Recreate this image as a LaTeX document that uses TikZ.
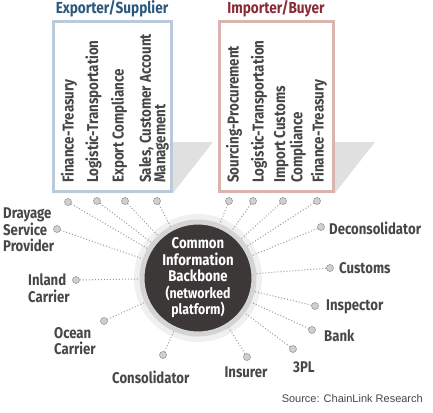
\documentclass[tikz,border=0pt]{standalone}
\usepackage{fontspec}
\setmainfont{Fira Sans}
\newfontfamily\cond{Fira Sans}[FakeStretch=0.85]
\newfontfamily\srcfont{Liberation Sans}
\definecolor{expblue}{HTML}{2B587C}
\definecolor{impred}{HTML}{8A2B36}
\definecolor{boxblue}{HTML}{BACADB}
\definecolor{boxred}{HTML}{DAB4AE}
\definecolor{shadegray}{HTML}{E0E0E0}
\definecolor{hubdark}{HTML}{3B3837}
\definecolor{ringgray}{HTML}{D4D4D4}
\definecolor{txt}{HTML}{474747}
\definecolor{dotfill}{HTML}{D0D0D0}
\definecolor{dotline}{HTML}{9A9A9A}
\tikzset{
  title/.style={font=\cond\bfseries\fontsize{16}{18}\selectfont, inner sep=0pt},
  vtext/.style={rotate=90, anchor=west, inner sep=0pt, align=left, text=txt,
     font=\cond\bfseries\fontsize{15.7}{14.5}\selectfont},
  lbl/.style={inner sep=0pt, align=left, text=txt, font=\cond\bfseries\fontsize{15.5}{16.5}\selectfont},
  dotnode/.style={circle, minimum size=7pt, inner sep=0pt, fill=dotfill, draw=dotline, line width=0.6pt},
  link/.style={draw=dotline, line width=1pt, dash pattern=on 1pt off 2pt},
}
\begin{document}
\begin{tikzpicture}[x=1pt,y=-1pt]
\useasboundingbox (0,0) rectangle (433,412);
% titles
\node[title, text=expblue] (t1) at (112,9) {Exporter/Supplier};
\node[title, text=impred] (t2) at (276,9) {Importer/Buyer};
% shadows
\fill[shadegray] (54,142) -- (213,142) -- (173,193) -- (54,193) -- cycle;
\fill[shadegray] (220,142) -- (375,142) -- (335,193) -- (220,193) -- cycle;
% boxes
\draw[boxblue, fill=white, line width=3pt] (53.5,21.5) rectangle (171.5,191.5);
\draw[boxred, fill=white, line width=3pt] (219.5,21.5) rectangle (333.5,191.5);
% vertical texts
\node[vtext] (e1) at (69,183) {Finance-Treasury};
\node[vtext] (e2) at (93.5,183) {Logistic-Transportation};
\node[vtext] (e3) at (119,183) {Export Compliance};
\node[vtext] (e4) at (154,183) {Sales, Customer Account\\Management};
\node[vtext] (i1) at (234,183) {Sourcing-Procurement};
\node[vtext] (i2) at (259,183) {Logistic-Transportation};
\node[vtext] (i3) at (290,183) {Import Customs\\Compliance};
\node[vtext] (i4) at (319,183) {Finance-Treasury};
% hub
\fill[gray!12] (198,278) circle (64);
\node[circle, minimum size=112pt, inner sep=0pt, fill=hubdark, draw=ringgray, line width=5pt,
      text=white, align=center, font=\cond\bfseries\fontsize{15.5}{16.5}\selectfont] (hub) at (198,278)
  {Common\\Information\\Backbone\\{\fontsize{14.5}{15.5}\selectfont(networked}\\{\fontsize{14.5}{15.5}\selectfont platform)}};
% dots
\node[dotnode] (d1) at (68,202) {};
\node[dotnode] (d2) at (97,201) {};
\node[dotnode] (d3) at (125,201) {};
\node[dotnode] (d4) at (157,201) {};
\node[dotnode] (d5) at (229,201) {};
\node[dotnode] (d6) at (253,201) {};
\node[dotnode] (d7) at (283,201) {};
\node[dotnode] (d8) at (317,201) {};
\node[dotnode] (dr) at (57,229) {};
\node[dotnode] (in) at (76,280) {};
\node[dotnode] (oc) at (104,321) {};
\node[dotnode] (co) at (163,355) {};
\node[dotnode] (is) at (247,357) {};
\node[dotnode] (tp) at (293,349) {};
\node[dotnode] (ba) at (312,330) {};
\node[dotnode] (ip) at (315,306) {};
\node[dotnode] (cu) at (330,268) {};
\node[dotnode] (de) at (321,227) {};
\foreach \d in {d1,d2,d3,d4,d5,d6,d7,d8,dr,in,oc,co,is,tp,ba,ip,cu,de}
  \draw[link] (\d) -- (hub);
% labels
\node[lbl, anchor=west] (ldr) at (3,230) {Drayage\\Service\\Provider};
\node[lbl, anchor=west] (lin) at (28,288) {Inland\\Carrier};
\node[lbl, anchor=west] (loc) at (54,341) {Ocean\\Carrier};
\node[lbl, anchor=west] (lco) at (112,377) {Consolidator};
\node[lbl] (lis) at (246,372) {Insurer};
\node[lbl, anchor=west] (ltp) at (293,367) {3PL};
\node[lbl, anchor=west] (lba) at (324,336) {Bank};
\node[lbl, anchor=west] (lip) at (326,307) {Inspector};
\node[lbl, anchor=west] (lcu) at (339,268) {Customs};
\node[lbl, anchor=west] (lde) at (329,228) {Deconsolidator};
\node[inner sep=0pt, anchor=east, text=txt, font=\srcfont\fontsize{11}{13}\selectfont] (src) at (423,399) {Source: ChainLink Research};
\end{tikzpicture}
\end{document}
